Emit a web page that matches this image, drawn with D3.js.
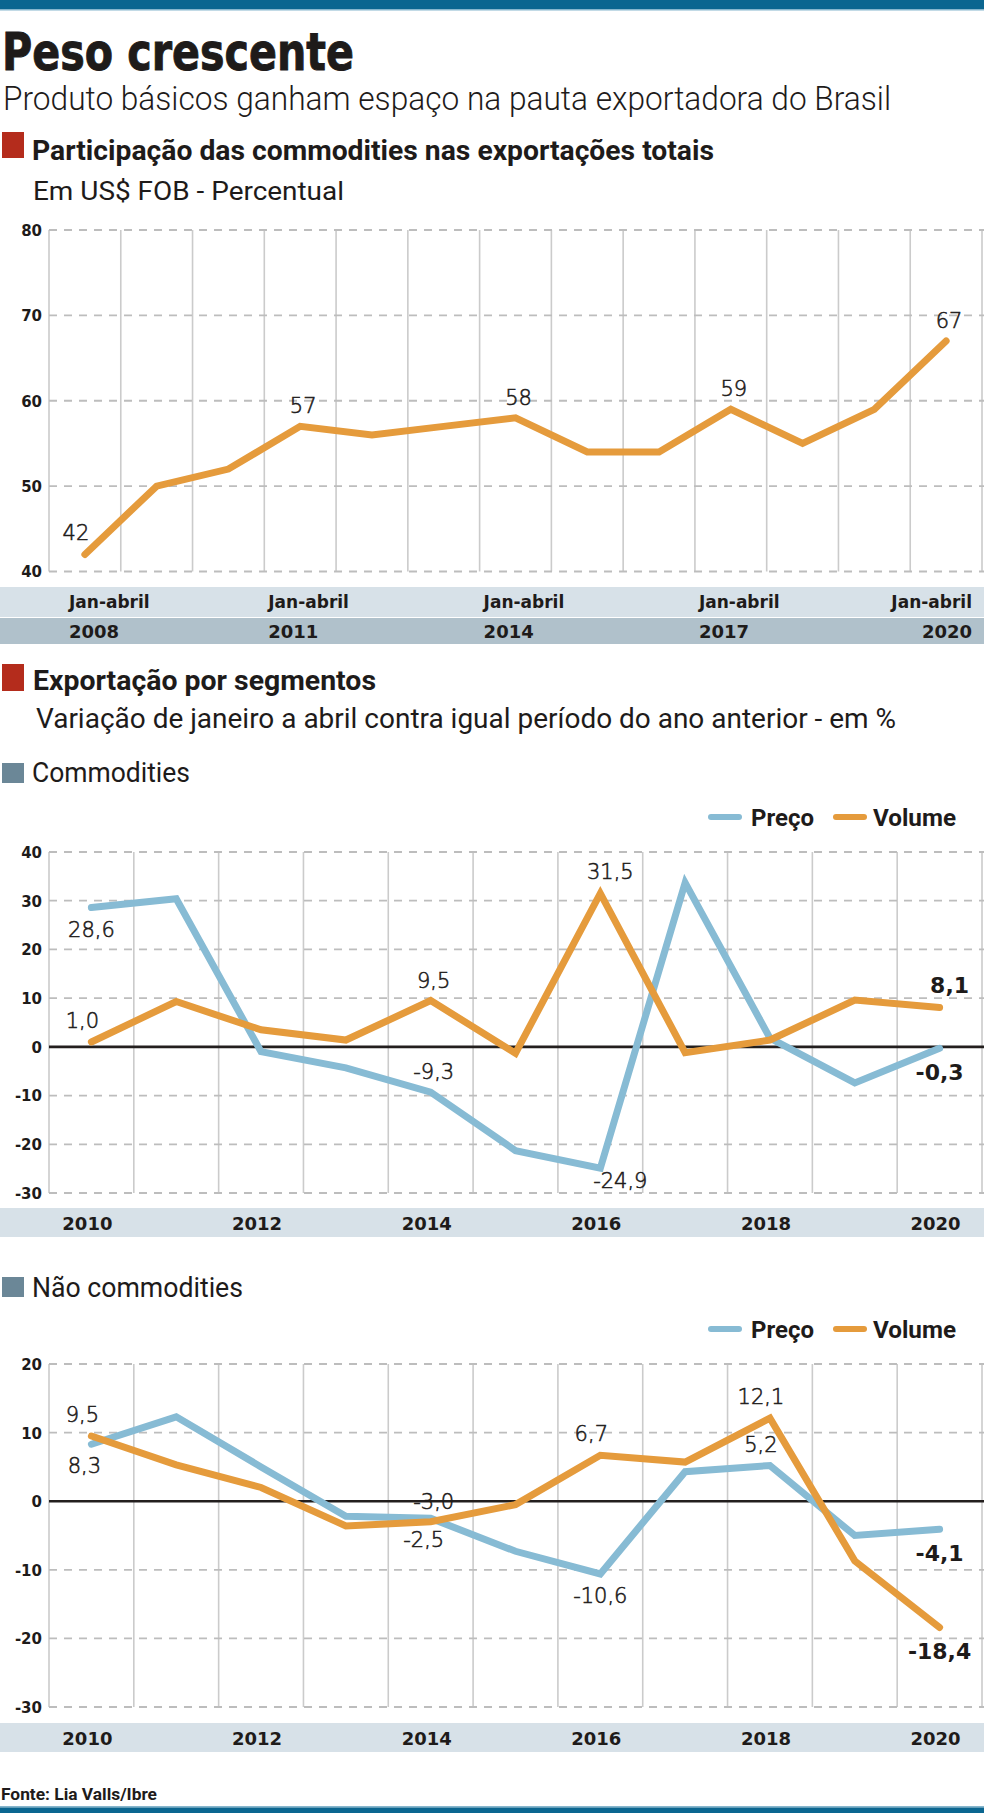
<!DOCTYPE html>
<html lang="pt-BR">
<head>
<meta charset="utf-8">
<title>Peso crescente</title>
<script src="https://cdn.jsdelivr.net/npm/d3@7"></script>
<style>
  html, body { margin: 0; padding: 0; background: #fff; }
  svg { display: block; }
</style>
</head>
<body>
<svg id="chart" width="984" height="1813"></svg>
<script>
// --- data ---

// participação das commodities nas exportações totais (%)
const shareYears = [2008, 2009, 2010, 2011, 2012, 2013, 2014, 2015, 2016, 2017, 2018, 2019, 2020];
const shareValues = [42, 50, 52, 57, 56, 57, 58, 54, 54, 59, 55, 59, 67];
const shareTicks = [40, 50, 60, 70, 80];
const shareAxisYears = [2008, 2011, 2014, 2017, 2020];
const shareLabels = [
  {series: "volume", year: 2008, place: "above-left"},
  {series: "volume", year: 2011, place: "above"},
  {series: "volume", year: 2014, place: "above"},
  {series: "volume", year: 2017, place: "above"},
  {series: "volume", year: 2020, place: "above"}
];

// exportação por segmentos, variação jan-abr (%)
const segYears = [2010, 2011, 2012, 2013, 2014, 2015, 2016, 2017, 2018, 2019, 2020];
const segAxisYears = [2010, 2012, 2014, 2016, 2018, 2020];

const commodPreco  = [28.6, 30.4, -1.0, -4.3, -9.3, -21.3, -24.9, 33.7, 1.8, -7.4, -0.3];
const commodVolume = [1.0, 9.3, 3.5, 1.4, 9.5, -1.3, 31.5, -1.2, 1.4, 9.6, 8.1];
const commodTicks = [-30, -20, -10, 0, 10, 20, 30, 40];
const commodLabels = [
  {series: "preco", year: 2010, place: "below"},
  {series: "volume", year: 2010, place: "above-left"},
  {series: "volume", year: 2014, place: "above"},
  {series: "preco", year: 2014, place: "above"},
  {series: "volume", year: 2016, place: "above-right"},
  {series: "preco", year: 2016, place: "below-right"},
  {series: "volume", year: 2020, place: "above-right"},
  {series: "preco", year: 2020, place: "below"}
];

const naoPreco  = [8.3, 12.3, 5.0, -2.2, -2.5, -7.3, -10.6, 4.3, 5.2, -5.0, -4.1];
const naoVolume = [9.5, 5.3, 2.0, -3.6, -3.0, -0.5, 6.7, 5.7, 12.1, -8.7, -18.4];
const naoTicks = [-30, -20, -10, 0, 10, 20];
const naoLabels = [
  {series: "volume", year: 2010, place: "above-left"},
  {series: "preco", year: 2010, place: "below-left"},
  {series: "volume", year: 2014, place: "above"},
  {series: "preco", year: 2014, place: "below-left"},
  {series: "volume", year: 2016, place: "above-left"},
  {series: "preco", year: 2016, place: "below"},
  {series: "volume", year: 2018, place: "above-left"},
  {series: "preco", year: 2018, place: "above-left"},
  {series: "preco", year: 2020, place: "below"},
  {series: "volume", year: 2020, place: "below"}
];

// --- styles ---
const W = 984;
const plotLeft = 49, plotRight = 982;
const ink = "#1e1b1a";
const orange = "#e59b3c", blue = "#87bbd4";
const red = "#b42c1c", slate = "#6b8797";
const bandLight = "#d7e1e8", bandDark = "#b0c1cb";
const condensed = "Roboto, 'DejaVu Sans Condensed', 'Liberation Sans Narrow', sans-serif";
const wide = "'DejaVu Sans', Verdana, sans-serif";

const br = d3.formatLocale({decimal: ",", thousands: ".", grouping: [3], currency: ["R$", ""], minus: "-"});
const fmt1 = br.format(".1f");
const fmt0 = br.format("d");

// offsets for value labels
const places = {
  "above":       {dx: 3,  dy: -13},
  "above-left":  {dx: -9, dy: -14},
  "above-right": {dx: 10, dy: -14},
  "below":       {dx: 0,  dy: 29},
  "below-left":  {dx: -7, dy: 29},
  "below-right": {dx: 20, dy: 20}
};

const svg = d3.select("#chart");

function put(g, x, y, str, o) {
  const t = g.append("text")
    .attr("x", x).attr("y", y)
    .attr("font-family", o.font || condensed)
    .attr("font-size", o.size)
    .attr("font-weight", o.weight || 400)
    .attr("fill", o.fill || ink)
    .attr("text-anchor", o.anchor || "start")
    .text(str);
  if (o.fit) t.attr("textLength", o.fit).attr("lengthAdjust", "spacingAndGlyphs");
  if (o.stroke) t.attr("stroke", o.fill || ink).attr("stroke-width", o.stroke);
  return t;
}

function square(y, h, fill) {
  svg.append("rect").attr("x", 2).attr("y", y).attr("width", 22).attr("height", h).attr("fill", fill);
}

// --- header / footer bars ---
svg.append("rect").attr("x", 0).attr("y", 0).attr("width", W).attr("height", 9).attr("fill", "#0b6690");
svg.append("rect").attr("x", 0).attr("y", 9).attr("width", W).attr("height", 1.5).attr("fill", "#86b6cd");
svg.append("rect").attr("x", 0).attr("y", 1806).attr("width", W).attr("height", 1.5).attr("fill", "#86b6cd");
svg.append("rect").attr("x", 0).attr("y", 1807.5).attr("width", W).attr("height", 6).attr("fill", "#0b6690");

// --- titles ---
put(svg, 2, 70, "Peso crescente", {font: wide, size: 52, weight: 700, fit: 352, stroke: 1});
put(svg, 3, 110, "Produto básicos ganham espaço na pauta exportadora do Brasil", {size: 34, weight: 300, fit: 888});

square(132, 26, red);
put(svg, 32, 160, "Participação das commodities nas exportações totais", {size: 28, weight: 700, fit: 682});
put(svg, 33, 200, "Em US$ FOB - Percentual", {size: 25, fit: 311});

square(664, 27, red);
put(svg, 33, 690, "Exportação por segmentos", {size: 28, weight: 700, fit: 343});
put(svg, 36, 728, "Variação de janeiro a abril contra igual período do ano anterior - em %", {size: 27, fit: 860});

square(763, 20, slate);
put(svg, 32, 782, "Commodities", {size: 27, fit: 158});

square(1277, 20, slate);
put(svg, 32, 1297, "Não commodities", {size: 27, fit: 211});

put(svg, 1, 1800, "Fonte: Lia Valls/Ibre", {size: 17, weight: 700, fit: 156});

// --- one chart panel ---
function panel(p) {
  const g = svg.append("g");
  const x = d3.scaleBand().domain(p.years).range([plotLeft, plotRight]);
  const cx = d => x(d) + x.bandwidth() / 2;
  const y = d3.scaleLinear().domain(p.domain).range([p.bottom, p.top]);

  // vertical grid on band edges
  const edges = p.years.map(d => x(d)).concat([plotRight]);
  g.append("g").selectAll("line").data(edges).join("line")
    .attr("x1", d => d).attr("x2", d => d)
    .attr("y1", p.top).attr("y2", p.bottom)
    .attr("stroke", "#cbcbcb").attr("stroke-width", 1.6);

  // dashed horizontal grid
  g.append("g").selectAll("line").data(p.ticks.filter(t => t !== 0)).join("line")
    .attr("x1", plotLeft).attr("x2", W)
    .attr("y1", d => y(d)).attr("y2", d => y(d))
    .attr("stroke", "#bdbdbd").attr("stroke-width", 1.8)
    .attr("stroke-dasharray", "8,7");

  if (p.ticks.includes(0)) {
    g.append("line")
      .attr("x1", plotLeft).attr("x2", W)
      .attr("y1", y(0)).attr("y2", y(0))
      .attr("stroke", "#231f1e").attr("stroke-width", 2.6);
  }

  // y tick labels
  const yAxis = g.append("g")
    .attr("transform", `translate(${plotLeft},0)`)
    .call(d3.axisLeft(y).tickValues(p.ticks).tickSize(0).tickPadding(7).tickFormat(d => String(d)));
  yAxis.select(".domain").remove();
  yAxis.selectAll("text")
    .attr("font-family", wide).attr("font-weight", 700).attr("font-size", 15)
    .attr("fill", ink).attr("dy", "0.36em");

  // x bands
  p.bands.forEach(b => {
    g.append("rect").attr("x", 0).attr("y", b.y0).attr("width", W).attr("height", b.y1 - b.y0).attr("fill", b.fill);
  });
  p.axisRows.forEach(row => {
    g.append("g").selectAll("text").data(p.axisYears).join("text")
      .attr("x", (d, i) => p.axisX(x, cx, d, i, p.axisYears.length))
      .attr("y", row.baseline)
      .attr("text-anchor", (d, i) => p.axisAnchor(i, p.axisYears.length))
      .attr("font-family", wide).attr("font-weight", 700).attr("font-size", row.size)
      .attr("fill", ink)
      .text(row.text);
  });

  // lines
  const line = d3.line().x(d => cx(d.year)).y(d => y(d.v));
  p.series.forEach(s => {
    const pts = p.years.map((yr, i) => ({year: yr, v: s.values[i]}));
    g.append("path").datum(pts)
      .attr("d", line)
      .attr("fill", "none")
      .attr("stroke", s.color).attr("stroke-width", 7)
      .attr("stroke-linecap", "round").attr("stroke-linejoin", "miter");
  });

  // value labels
  const byName = {};
  p.series.forEach(s => { byName[s.name] = s.values; });
  const last = p.years[p.years.length - 1];
  g.append("g").selectAll("text").data(p.labels).join("text")
    .each(function(d) {
      const v = byName[d.series][p.years.indexOf(d.year)];
      const bold = p.boldLast && d.year === last;
      const o = places[d.place];
      const dy = (bold && o.dy > 0) ? o.dy + 3 : o.dy;
      d3.select(this)
        .attr("x", cx(d.year) + o.dx)
        .attr("y", y(v) + dy)
        .attr("text-anchor", "middle")
        .attr("font-family", wide)
        .attr("font-weight", bold ? 700 : 300)
        .attr("font-size", bold ? 22 : 21)
        .attr("fill", ink)
        .attr("stroke", bold ? "none" : ink)
        .attr("stroke-width", bold ? 0 : 0.55)
        .text(p.format(v));
    });

  // legend
  if (p.legend) {
    const ly = p.top - 35;
    const items = [{name: "Preço", color: blue, x0: 711, x1: 739, tx: 751, w: 63},
                   {name: "Volume", color: orange, x0: 836, x1: 864, tx: 873, w: 83}];
    items.forEach(it => {
      g.append("line").attr("x1", it.x0).attr("x2", it.x1).attr("y1", ly).attr("y2", ly)
        .attr("stroke", it.color).attr("stroke-width", 6).attr("stroke-linecap", "round");
      put(g, it.tx, ly + 9, it.name, {size: 24, weight: 700, fit: it.w});
    });
  }
}

// chart 1
panel({
  years: shareYears,
  domain: [40, 80], top: 230, bottom: 571.5,
  ticks: shareTicks,
  series: [{name: "volume", values: shareValues, color: orange}],
  labels: shareLabels,
  format: fmt0,
  boldLast: false,
  legend: false,
  bands: [{y0: 587, y1: 617, fill: bandLight}, {y0: 618, y1: 644, fill: bandDark}],
  axisYears: shareAxisYears,
  axisRows: [{baseline: 608, size: 17, text: () => "Jan-abril"},
             {baseline: 638, size: 18, text: d => String(d)}],
  axisX: (x, cx, d, i, n) => i === 0 ? x(d) + 20 : (i === n - 1 ? plotRight - 10 : x(d) + 4),
  axisAnchor: (i, n) => i === n - 1 ? "end" : "start"
});

// chart 2 — commodities
panel({
  years: segYears,
  domain: [-30, 40], top: 852, bottom: 1193,
  ticks: commodTicks,
  series: [{name: "preco", values: commodPreco, color: blue},
           {name: "volume", values: commodVolume, color: orange}],
  labels: commodLabels,
  format: fmt1,
  boldLast: true,
  legend: true,
  bands: [{y0: 1208, y1: 1237, fill: bandLight}],
  axisYears: segAxisYears,
  axisRows: [{baseline: 1230, size: 18, text: d => String(d)}],
  axisX: (x, cx, d) => cx(d) - 4,
  axisAnchor: () => "middle"
});

// chart 3 — não commodities
panel({
  years: segYears,
  domain: [-30, 20], top: 1364, bottom: 1707,
  ticks: naoTicks,
  series: [{name: "preco", values: naoPreco, color: blue},
           {name: "volume", values: naoVolume, color: orange}],
  labels: naoLabels,
  format: fmt1,
  boldLast: true,
  legend: true,
  bands: [{y0: 1723, y1: 1752, fill: bandLight}],
  axisYears: segAxisYears,
  axisRows: [{baseline: 1745, size: 18, text: d => String(d)}],
  axisX: (x, cx, d) => cx(d) - 4,
  axisAnchor: () => "middle"
});
</script>
</body>
</html>
